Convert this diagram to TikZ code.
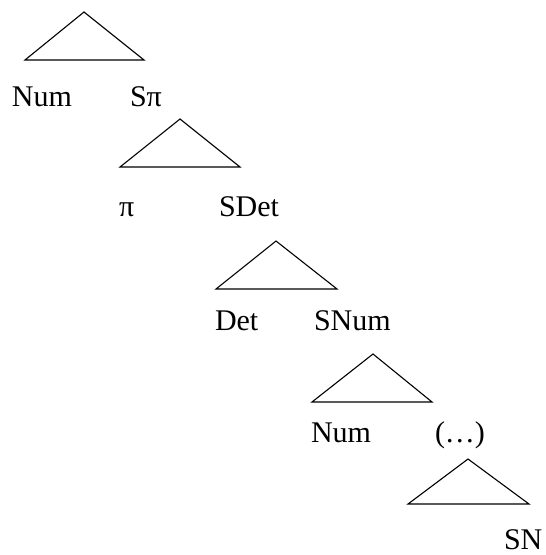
\documentclass[tikz,border=0pt]{standalone}
\usepackage{fontspec}
\setmainfont{Liberation Serif}
\begin{document}
\begin{tikzpicture}[x=1pt,y=-1pt,
  tri/.style={draw=black,line width=1.1pt,line join=miter},
  lab/.style={anchor=base west,inner sep=0pt,outer sep=0pt,font=\fontsize{30}{36}\selectfont}]
\useasboundingbox (0,0) rectangle (546,555);
% triangles
\draw[tri] (84,12) -- (25,60) -- (144,60) -- cycle;
\draw[tri] (180,119) -- (120,167) -- (240,167) -- cycle;
\draw[tri] (276,241) -- (216,289) -- (337,289) -- cycle;
\draw[tri] (373,354) -- (312,402) -- (432,402) -- cycle;
\draw[tri] (468,459) -- (408,504) -- (529,504) -- cycle;
% labels
\node[lab] (num1) at (12,106) {Num};
\node[lab] (spi) at (130,106) {Sπ};
\node[lab] (pi) at (119,216) {π};
\node[lab] (sdet) at (219,216) {SDet};
\node[lab] (det) at (215,330) {Det};
\node[lab] (snum) at (314,330) {SNum};
\node[lab] (num2) at (311,442) {Num};
\node[lab] (dots) at (435,442) {(…)};
\node[lab] (sn) at (504,549) {SN};
\end{tikzpicture}
\end{document}
